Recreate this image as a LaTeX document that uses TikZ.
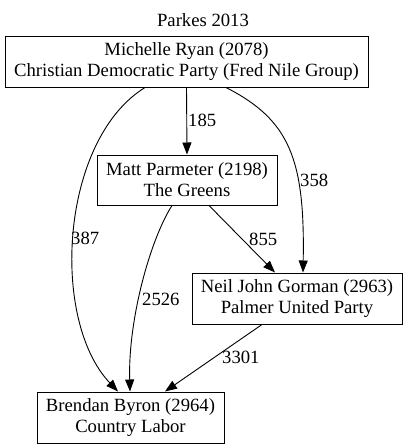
\documentclass[tikz,border=0pt]{standalone}
\usepackage{fontspec}
\setmainfont{Liberation Serif}
\usetikzlibrary{arrows.meta}
\tikzset{
  box/.style={draw, line width=1pt, rectangle, align=center, inner sep=0pt, font=\fontsize{18.67}{21}\selectfont},
  edge/.style={line width=0.9pt, -{Triangle[length=12pt,width=9pt]}},
  lbl/.style={font=\fontsize{18.67}{21}\selectfont, inner sep=0pt, anchor=west}
}
\begin{document}
\begin{tikzpicture}[x=1pt,y=-1pt]
\useasboundingbox (0,0) rectangle (408,448);
\node[font=\fontsize{18.67}{21}\selectfont] (title) at (203,20) {Parkes 2013};
\node[box, minimum width=363pt, minimum height=51pt] (n1) at (186.5,61.5) {Michelle Ryan (2078)\\Christian Democratic Party (Fred Nile Group)};
\node[box, minimum width=180pt, minimum height=50pt] (n2) at (187,180) {Matt Parmeter (2198)\\The Greens};
\node[box, minimum width=210pt, minimum height=51pt] (n3) at (297,298.5) {Neil John Gorman (2963)\\Palmer United Party};
\node[box, minimum width=187pt, minimum height=51pt] (n4) at (130.5,417.5) {Brendan Byron (2964)\\Country Labor};
% edges
\draw[edge] (n1.south) -- (n2.north);
\node[lbl] (l12) at (188,120) {185};
\draw[edge] ([xshift=39.5pt]n1.south) .. controls (290,120) and (305,160) .. ([xshift=6pt]n3.north);
\node[lbl] (l13) at (300,180) {358};
\draw[edge] ([xshift=-41.5pt]n1.south) .. controls (60,140) and (50,320) .. ([xshift=-12.5pt]n4.north);
\node[lbl] (l14) at (71,238) {387};
\draw[edge] ([xshift=22pt]n2.south) -- ([xshift=-22pt]n3.north);
\node[lbl] (l23) at (249,239) {855};
\draw[edge] ([xshift=-15pt]n2.south) .. controls (150,240) and (128,320) .. ([xshift=-0.5pt]n4.north);
\node[lbl] (l24) at (142,299) {2526};
\draw[edge] ([xshift=-35pt]n3.south) -- ([xshift=34.5pt]n4.north);
\node[lbl] (l34) at (222,357) {3301};
\end{tikzpicture}
\end{document}
